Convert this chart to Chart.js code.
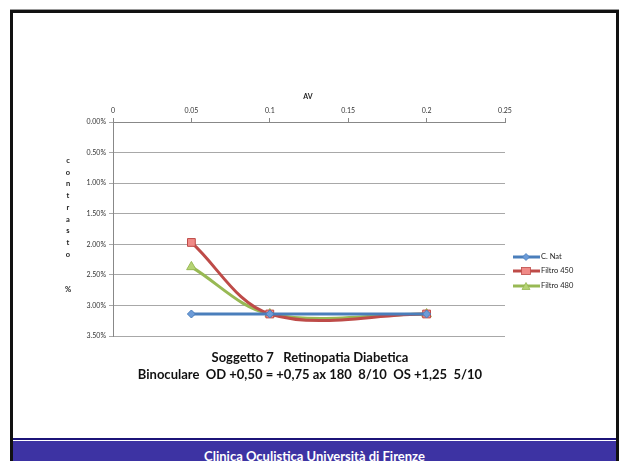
<!DOCTYPE html>
<html>
<head>
<meta charset="utf-8">
<script src="https://cdn.jsdelivr.net/npm/chart.js@4.4.1/dist/chart.umd.min.js"></script>
<style>
  html, body { margin:0; padding:0; background:#fff; }
  body { width:620px; height:461px; position:relative; overflow:hidden; font-family:"Lato","Open Sans",sans-serif; }
  #frame { position:absolute; left:10px; top:10px; width:603px; height:460px; border:3px solid #111; border-bottom:none; box-sizing:content-box; }
  #topgray { position:absolute; left:10px; top:9px; width:609px; height:1px; background:#999; }
  #bandline { position:absolute; left:13px; top:438px; width:603px; height:2px; background:#1c1478; }
  #band { position:absolute; left:13px; top:441px; width:603px; height:20px; background:#3d33a3; }
  #footer { position:absolute; left:13px; width:603px; top:448px; text-align:center; color:#fff; font-weight:bold; font-size:13px; line-height:16px; }
  #wrap { position:absolute; left:0; top:0; width:620px; height:461px; }
  .ov { position:absolute; color:#222; }
  #avtitle { left:290px; top:92px; width:36px; text-align:center; font-weight:bold; font-size:7px; }
  #ytitle { left:62px; top:0; width:12px; }
  #ytitle span { position:absolute; left:0; width:12px; text-align:center; font-weight:bold; font-size:7.5px; line-height:8px; }
  #title { left:60px; width:500px; top:349px; text-align:center; font-weight:bold; font-size:13px; line-height:17px; color:#111; }
  #legend { left:513px; top:0; }
  .li { position:absolute; left:0; width:110px; height:10px; font-size:7.5px; line-height:10px; white-space:nowrap; }
  .li svg { position:absolute; left:0; top:1px; }
  .li span { position:absolute; left:28px; top:0; }
</style>
</head>
<body>
<div id="topgray"></div>
<div id="frame"></div>
<div id="wrap"><canvas id="c" width="620" height="461"></canvas></div>
<div class="ov" id="avtitle">AV</div>
<div class="ov" id="ytitle"></div>
<div class="ov" id="legend"></div>
<div class="ov" id="title">Soggetto 7&nbsp;&nbsp; Retinopatia Diabetica<br>Binoculare&nbsp; OD +0,50 = +0,75 ax 180&nbsp; 8/10&nbsp; OS +1,25&nbsp; 5/10</div>
<div id="bandline"></div>
<div id="band"></div>
<div id="footer">Clinica Oculistica Università di Firenze</div>
<script>
// ---- data ----
const avValues = [0.05, 0.1, 0.2];
const seriesNames = ["C. Nat", "Filtro 450", "Filtro 480"];
const cNat = [0.0314, 0.0314, 0.0314];
const filtro450 = [0.0197, 0.0314, 0.0314];
const filtro480 = [0.0237, 0.0314, 0.0314];
const xTicks = [0, 0.05, 0.1, 0.15, 0.2, 0.25];
const yTicks = [0, 0.005, 0.01, 0.015, 0.02, 0.025, 0.03, 0.035];
const yTitle = "contrasto  %";

// ---- styles ----
const lineColors = ["#4a7ebb", "#be4b48", "#98b954"];
const markerFill = ["#6c9bd8", "#f08a87", "#b5d374"];
const markerStyle = ["rectRot", "rect", "triangle"];
const markerRadius = [4, 5.5, 5.5];

function pts(vals) { return avValues.map((x, i) => ({ x: x, y: vals[i] })); }
const allSeries = [cNat, filtro450, filtro480];

const datasets = allSeries.map((vals, i) => ({
  label: seriesNames[i],
  data: pts(vals),
  borderColor: lineColors[i],
  backgroundColor: markerFill[i],
  borderWidth: 3,
  tension: 0.35,
  pointStyle: markerStyle[i],
  pointRadius: markerRadius[i],
  pointBackgroundColor: markerFill[i],
  pointBorderColor: lineColors[i],
  pointBorderWidth: 1,
  clip: false
}));

const fontTick = { family: "Lato, 'Open Sans', sans-serif", size: 7 };

new Chart(document.getElementById("c"), {
  type: "line",
  data: { datasets: datasets },
  options: {
    responsive: false,
    animation: false,
    devicePixelRatio: 1,
    layout: { padding: { left: 60, top: 100, right: 115, bottom: 125 } },
    plugins: { legend: { display: false }, tooltip: { enabled: false }, title: { display: false } },
    scales: {
      x: {
        type: "linear", position: "top", min: 0, max: 0.25,
        afterBuildTicks: s => { s.ticks = xTicks.map(v => ({ value: v })); },
        afterFit: s => { s.height = 22; },
        ticks: { font: fontTick, color: "#333", padding: 3, maxRotation: 0,
                 callback: v => String(Math.round(v * 100) / 100) },
        grid: { drawOnChartArea: false, drawTicks: true, tickLength: 4, color: "#888" },
        border: { color: "#888", width: 1 }
      },
      y: {
        type: "linear", reverse: true, min: 0, max: 0.035,
        afterBuildTicks: s => { s.ticks = yTicks.map(v => ({ value: v })); },
        afterFit: s => { s.width = 53; },
        ticks: { font: fontTick, color: "#333", padding: 3,
                 callback: v => (v * 100).toFixed(2) + "%" },
        grid: { color: "#a8a8a8", lineWidth: 1, drawTicks: true, tickLength: 4 },
        border: { color: "#888", width: 1 }
      }
    }
  }
});

// stacked y title
const yt = document.getElementById("ytitle");
[...yTitle].forEach((ch, i) => {
  const s = document.createElement("span");
  s.textContent = ch;
  s.style.top = (157 + i * 11.7) + "px";
  yt.appendChild(s);
});

// legend
const lg = document.getElementById("legend");
const legendY = [252, 266, 281];
seriesNames.forEach((name, i) => {
  const d = document.createElement("div");
  d.className = "li";
  d.style.top = legendY[i] + "px";
  let marker;
  if (markerStyle[i] === "rectRot") marker = `<polygon points="13,0.5 16.5,4 13,7.5 9.5,4" fill="${markerFill[i]}" stroke="${lineColors[i]}" stroke-width="0.8"/>`;
  else if (markerStyle[i] === "rect") marker = `<rect x="8.5" y="0.5" width="9" height="7" fill="${markerFill[i]}" stroke="${lineColors[i]}" stroke-width="0.8"/>`;
  else marker = `<polygon points="13,0.5 17,7.5 9,7.5" fill="${markerFill[i]}" stroke="${lineColors[i]}" stroke-width="0.8"/>`;
  d.innerHTML = `<svg width="28" height="8"><line x1="0" y1="4" x2="27" y2="4" stroke="${lineColors[i]}" stroke-width="3"/>${marker}</svg><span>${name}</span>`;
  lg.appendChild(d);
});
</script>
</body>
</html>
